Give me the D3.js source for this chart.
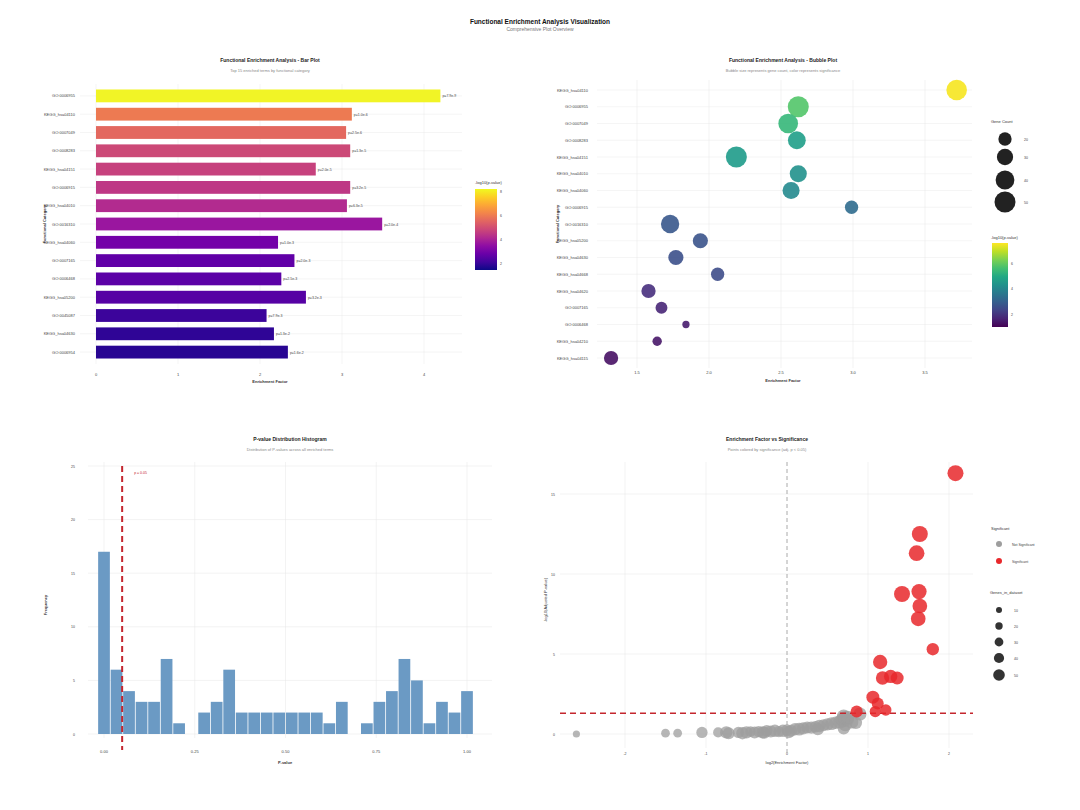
<!DOCTYPE html>
<html><head><meta charset="utf-8">
<script src="https://cdn.jsdelivr.net/npm/d3@7"></script>
<style>body{margin:0;background:#fff;font-family:"Liberation Sans",Arial,sans-serif}</style>
</head><body><svg id="c" width="1080" height="810"></svg>
<script>
// bar plot
const barTerms = ['GO:0006955','KEGG_hsa04110','GO:0007049','GO:0008283','KEGG_hsa04151','GO:0006915','KEGG_hsa04010','GO:0016310','KEGG_hsa04060','GO:0007165','GO:0006468','KEGG_hsa05200','GO:0045087','KEGG_hsa04630','GO:0006954'];
const barFactor = [4.2,3.12,3.05,3.1,2.68,3.1,3.06,3.49,2.22,2.42,2.26,2.56,2.08,2.17,2.34];
const barLogP = [8.1,6.0,5.6,4.9,4.7,4.5,4.2,3.7,3.0,2.7,2.6,2.5,2.1,1.9,1.8];
// bubble plot
const bubTerms = ['KEGG_hsa04110','GO:0006955','GO:0007049','GO:0008283','KEGG_hsa04151','KEGG_hsa04010','KEGG_hsa04060','GO:0006915','GO:0016310','KEGG_hsa05200','KEGG_hsa04630','KEGG_hsa04668','KEGG_hsa04620','GO:0007165','GO:0006468','KEGG_hsa04210','KEGG_hsa04115'];
const bubFactor = [3.72,2.62,2.55,2.61,2.19,2.62,2.57,2.99,1.73,1.94,1.77,2.06,1.58,1.67,1.84,1.64,1.32];
const bubCount = [48,50,44,36,50,33,33,20,38,26,26,20,23,16,6,10,23];
const bubLogP = [7.5,5.8,5.4,4.7,4.6,4.3,4.1,3.3,2.8,2.7,2.6,2.5,1.9,1.7,1.5,1.4,1.3];
// histogram (30 bins centred on i/29)
const histCounts = [17,6,4,3,3,7,1,0,2,3,6,2,2,2,2,2,2,2,1,3,0,1,3,4,7,5,1,3,2,4];
// volcano
const sigX = [2.08,1.64,1.60,1.42,1.63,1.64,1.62,1.80,1.15,1.18,1.28,1.36,1.06,1.12,1.22,1.09,0.86];
const sigY = [16.3,12.5,11.3,8.75,8.9,8.0,7.2,5.3,4.5,3.5,3.6,3.5,2.3,1.9,1.5,1.4,1.4];
const sigN = [50,50,48,50,45,42,42,30,40,35,35,33,33,28,25,25,28];
const nsX = [-2.6,-1.5,-1.35,-1.05,-0.85,-0.75,-0.72,-0.6,-0.5,-0.45,-0.4,-0.35,-0.3,-0.25,-0.2,-0.15,-0.1,-0.05,0.0,0.05,0.1,0.15,0.2,0.25,0.3,0.35,0.4,0.45,0.5,0.55,0.6,0.65,0.7,0.72,0.68,0.72,0.7,0.75,0.8,0.85,0.9,0.75,0.7,-0.55,-0.28,0.02,0.38];
const nsY = [0.0,0.05,0.05,0.1,0.1,0.1,0.05,0.1,0.1,0.15,0.1,0.15,0.1,0.2,0.15,0.2,0.15,0.2,0.25,0.2,0.3,0.3,0.35,0.4,0.4,0.45,0.5,0.55,0.6,0.65,0.7,0.75,0.8,0.6,0.9,1.0,0.35,0.9,0.75,0.7,1.25,1.05,1.1,0.05,0.08,0.12,0.3];
const nsN = [10,15,15,25,20,30,28,25,30,22,28,25,30,26,28,30,24,30,26,28,30,32,30,28,30,26,30,28,30,32,30,34,30,36,34,38,28,30,34,30,34,32,36,30,28,30,28];

const svg = d3.select('#c');
const txt = (x,y,s,o={}) => svg.append('text').attr('x',x).attr('y',y).text(s)
  .attr('font-size',o.size||5).attr('fill',o.fill||'#444').attr('font-weight',o.bold?'bold':null)
  .attr('text-anchor',o.anchor||'middle').attr('transform',o.rot?`rotate(-90,${x},${y})`:null);
const grid = '#e6e6e6';

txt(540,24,'Functional Enrichment Analysis Visualization',{size:6.5,bold:true,fill:'#111'});
txt(540,31,'Comprehensive Plot Overview',{size:5,fill:'#777'});

// ---- panel 1: bar plot
{
  const x = d3.scaleLinear().domain([0,4]).range([96,424]);
  const y = d3.scaleBand().domain(barTerms).range([84,364]).padding(0.3);
  const col = d3.scaleSequential(d3.interpolatePlasma).domain([1.5,8.2]);
  [0,1,2,3,4].forEach(t=>{svg.append('line').attr('x1',x(t)).attr('x2',x(t)).attr('y1',84).attr('y2',364).attr('stroke',grid).attr('stroke-width',0.4);
    txt(x(t),376,t,{size:4});});
  barTerms.forEach((t,i)=>{
    svg.append('line').attr('x1',80).attr('x2',462).attr('y1',y(t)+y.bandwidth()/2).attr('y2',y(t)+y.bandwidth()/2).attr('stroke',grid).attr('stroke-width',0.4);
    svg.append('rect').attr('x',x(0)).attr('y',y(t)).attr('width',x(barFactor[i])-x(0)).attr('height',y.bandwidth()).attr('fill',col(barLogP[i]));
    txt(75,y(t)+y.bandwidth()/2+1.5,t,{size:4,anchor:'end'});
    txt(x(barFactor[i])+2,y(t)+y.bandwidth()/2+1.5,'p='+Math.pow(10,-barLogP[i]).toExponential(1),{size:3.5,anchor:'start'});
  });
  txt(270,62,'Functional Enrichment Analysis - Bar Plot',{size:5,bold:true,fill:'#222'});
  txt(270,72,'Top 15 enriched terms by functional category',{size:4,fill:'#888'});
  txt(270,383,'Enrichment Factor',{size:4,bold:true,fill:'#333'});
  txt(46,224,'Functional Category',{size:4,bold:true,fill:'#333',rot:true});
  // legend
  const defs = svg.append('defs');
  const g1 = defs.append('linearGradient').attr('id','gp').attr('x1',0).attr('x2',0).attr('y1',1).attr('y2',0);
  d3.range(0,1.01,0.1).forEach(s=>g1.append('stop').attr('offset',s).attr('stop-color',d3.interpolatePlasma(s)));
  const ly = d3.scaleLinear().domain([1.5,8.2]).range([270,189]);
  svg.append('rect').attr('x',475).attr('y',189).attr('width',22).attr('height',81).attr('fill','url(#gp)');
  txt(475,184,'-log10(p-value)',{size:4,anchor:'start',fill:'#333'});
  [2,4,6,8].forEach(t=>txt(500,ly(t)+1.5,t,{size:3.5,anchor:'start'}));
}

// ---- panel 2: bubble plot
{
  const x = d3.scaleLinear().domain([1.5,3.5]).range([637,925]);
  const y = d3.scalePoint().domain(bubTerms).range([90,358]);
  const r = d3.scaleSqrt().domain([0,50]).range([0,10.5]);
  const col = d3.scaleSequential(d3.interpolateViridis).domain([1.0,7.6]);
  [1.5,2,2.5,3,3.5].forEach(t=>{svg.append('line').attr('x1',x(t)).attr('x2',x(t)).attr('y1',80).attr('y2',368).attr('stroke',grid).attr('stroke-width',0.5);
    txt(x(t),374,d3.format('.1f')(t),{size:4});});
  bubTerms.forEach((t,i)=>{
    svg.append('line').attr('x1',597).attr('x2',972).attr('y1',y(t)).attr('y2',y(t)).attr('stroke',grid).attr('stroke-width',0.4);
    txt(588,y(t)+1.5,t,{size:4,anchor:'end'});
  });
  bubTerms.forEach((t,i)=>svg.append('circle').attr('cx',x(bubFactor[i])).attr('cy',y(t)).attr('r',r(bubCount[i])).attr('fill',col(bubLogP[i])).attr('opacity',0.9));
  txt(783,62,'Functional Enrichment Analysis - Bubble Plot',{size:5,bold:true,fill:'#222'});
  txt(783,72,'Bubble size represents gene count, color represents significance',{size:4,fill:'#888'});
  txt(783,382,'Enrichment Factor',{size:4,bold:true,fill:'#333'});
  txt(559,224,'Functional Category',{size:4,bold:true,fill:'#333',rot:true});
  txt(991,123,'Gene Count',{size:4,anchor:'start',fill:'#333'});
  [20,30,40,50].forEach((v,i)=>{const cy=[139,157,180,202][i];
    svg.append('circle').attr('cx',1005).attr('cy',cy).attr('r',r(v)).attr('fill','#222');
    txt(1024,cy+1.5,v,{size:3.5,anchor:'start'});});
  const g2 = svg.select('defs').append('linearGradient').attr('id','gv').attr('x1',0).attr('x2',0).attr('y1',1).attr('y2',0);
  d3.range(0,1.01,0.1).forEach(s=>g2.append('stop').attr('offset',s).attr('stop-color',d3.interpolateViridis(s)));
  const ly = d3.scaleLinear().domain([1.0,7.6]).range([327,243]);
  txt(991,239,'-log10(p-value)',{size:4,anchor:'start',fill:'#333'});
  svg.append('rect').attr('x',992).attr('y',243).attr('width',16).attr('height',84).attr('fill','url(#gv)');
  [2,4,6].forEach(t=>txt(1011,ly(t)+1.5,t,{size:3.5,anchor:'start'}));
}

// ---- panel 3: histogram
{
  const x = d3.scaleLinear().domain([0,1]).range([104,467]);
  const y = d3.scaleLinear().domain([0,25]).range([734,466]);
  const w = 1/29;
  [0,0.25,0.5,0.75,1].forEach(t=>{svg.append('line').attr('x1',x(t)).attr('x2',x(t)).attr('y1',462).attr('y2',738).attr('stroke',grid).attr('stroke-width',0.5);
    txt(x(t),753,d3.format('.2f')(t),{size:4});});
  [0,5,10,15,20,25].forEach(t=>{svg.append('line').attr('x1',88).attr('x2',492).attr('y1',y(t)).attr('y2',y(t)).attr('stroke',grid).attr('stroke-width',0.5);
    txt(75,y(t)+1.5,t,{size:3.5,anchor:'end'});});
  histCounts.forEach((c,i)=>{ if(!c) return;
    svg.append('rect').attr('x',x(i*w-w/2)+0.4).attr('y',y(c)).attr('width',x(w)-x(0)-0.8).attr('height',y(0)-y(c)).attr('fill','#6b9ac4');});
  svg.append('line').attr('x1',x(0.05)).attr('x2',x(0.05)).attr('y1',466).attr('y2',750).attr('stroke','#c4262e').attr('stroke-width',2).attr('stroke-dasharray','6,4');
  txt(x(0.05)+12,474,'p = 0.05',{size:3.5,anchor:'start',fill:'#c4262e'});
  txt(290,441,'P-value Distribution Histogram',{size:5,bold:true,fill:'#222'});
  txt(290,451,'Distribution of P-values across all enriched terms',{size:4,fill:'#888'});
  txt(285,764,'P-value',{size:4,bold:true,fill:'#333'});
  txt(47,605,'Frequency',{size:4,bold:true,fill:'#333',rot:true});
}

// ---- panel 4: volcano
{
  const x = d3.scaleLinear().domain([-2,2]).range([625,949]);
  const y = d3.scaleLinear().domain([0,15]).range([734,494]);
  const r = d3.scaleSqrt().domain([0,50]).range([0,8]);
  [-2,-1,0,1,2].forEach(t=>{ if(t!==0) svg.append('line').attr('x1',x(t)).attr('x2',x(t)).attr('y1',462).attr('y2',748).attr('stroke',grid).attr('stroke-width',0.5);
    txt(x(t),755,t,{size:3.5});});
  [0,5,10,15].forEach(t=>{svg.append('line').attr('x1',560).attr('x2',973).attr('y1',y(t)).attr('y2',y(t)).attr('stroke',grid).attr('stroke-width',0.5);
    txt(555,y(t)+1.5,t,{size:3.5,anchor:'end'});});
  svg.append('line').attr('x1',x(0)).attr('x2',x(0)).attr('y1',462).attr('y2',754).attr('stroke','#aaa').attr('stroke-width',1).attr('stroke-dasharray','4,3');
  nsX.forEach((v,i)=>svg.append('circle').attr('cx',x(v)).attr('cy',y(nsY[i])).attr('r',r(nsN[i])).attr('fill','#9e9e9e').attr('opacity',0.75));
  svg.append('line').attr('x1',560).attr('x2',973).attr('y1',y(-Math.log10(0.05))).attr('y2',y(-Math.log10(0.05))).attr('stroke','#c4262e').attr('stroke-width',1.6).attr('stroke-dasharray','6,4');
  sigX.forEach((v,i)=>svg.append('circle').attr('cx',x(v)).attr('cy',y(sigY[i])).attr('r',r(sigN[i])).attr('fill','#e8282b').attr('opacity',0.85));
  txt(767,441,'Enrichment Factor vs Significance',{size:5,bold:true,fill:'#222'});
  txt(767,451,'Points colored by significance (adj. p < 0.05)',{size:4,fill:'#888'});
  txt(787,764,'log2(Enrichment Factor)',{size:4,fill:'#333'});
  txt(547,600,'-log10(Adjusted P-value)',{size:4,fill:'#333',rot:true});
  txt(991,530,'Significant',{size:4,anchor:'start',fill:'#333'});
  [['#9e9e9e','Not Significant',544],['#e8282b','Significant',561]].forEach(([c,l,yy])=>{
    svg.append('circle').attr('cx',999).attr('cy',yy).attr('r',3).attr('fill',c);
    txt(1012,yy+1.5,l,{size:3.5,anchor:'start'});});
  txt(990,594,'Genes_in_dataset',{size:4,anchor:'start',fill:'#333'});
  [10,20,30,40,50].forEach((v,i)=>{const cy=[610,626,642,658,675][i];
    svg.append('circle').attr('cx',999).attr('cy',cy).attr('r',3+i*0.7).attr('fill','#333');
    txt(1014,cy+1.5,v,{size:3.5,anchor:'start'});});
}
</script></body></html>
